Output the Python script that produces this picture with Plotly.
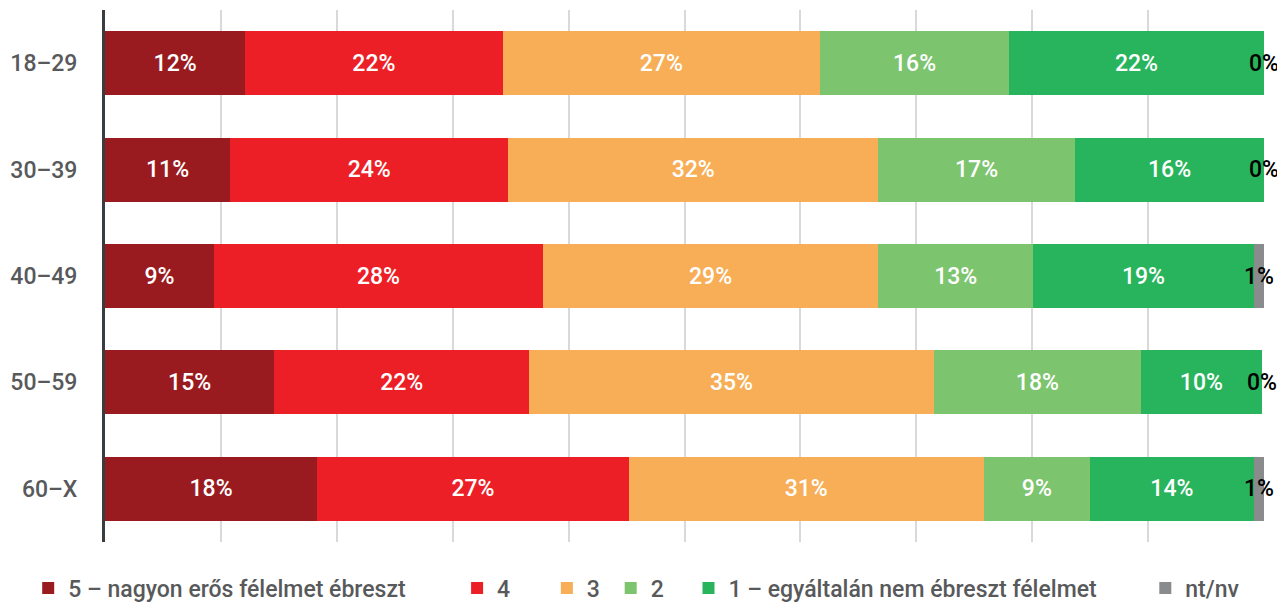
import plotly.graph_objects as go

categories = ["18–29", "30–39", "40–49", "50–59", "60–X"]
series_names = [
    "5 – nagyon erős félelmet ébreszt",
    "4",
    "3",
    "2",
    "1 – egyáltalán nem ébreszt félelmet",
    "nt/nv",
]
s5 = [12.1, 10.8, 9.4, 14.6, 18.3]
s4 = [22.2, 24.0, 28.4, 22.0, 26.9]
s3 = [27.4, 31.9, 28.9, 34.9, 30.6]
s2 = [16.3, 17.0, 13.4, 17.9, 9.2]
s1 = [22.0, 16.3, 19.0, 10.4, 14.1]
snv = [0.0, 0.0, 0.9, 0.0, 0.9]
values = [s5, s4, s3, s2, s1, snv]
colors = ["#9A1B1F", "#ED1F26", "#F7AE56", "#7DC46E", "#28B45C", "#8A8B8D"]

FONT = "Roboto"
SIZE = 23
GREY = "#58595B"

W, H = 1285, 620
OFF = 8  # page offset of the figure
ML, MR, MT, MB = 102 - OFF, W - (1264 - OFF), 10 - OFF, H - (542 - OFF)
PW, PH = W - ML - MR, H - MT - MB

# page x of each legend entry's text start (layout)
legend_text_x = [66, 496, 586, 650, 728, 1186]
LEG_Y_PAGE = 588

fig = go.Figure()
layout_legends = {}
for k, (name, vals, col) in enumerate(zip(series_names, values, colors)):
    is_nv = name == "nt/nv"
    lname = "legend" if k == 0 else f"legend{k + 1}"
    fig.add_trace(go.Bar(
        y=categories, x=vals, name=name, orientation="h",
        marker=dict(color=col, line=dict(width=0)),
        text=None if is_nv else [f"{round(v)}%" for v in vals],
        textposition="inside", insidetextanchor="middle",
        constraintext="none", textangle=0,
        textfont=dict(color="white", size=SIZE, family=FONT, weight=500),
        hoverinfo="skip", legend=lname,
    ))
    fx = legend_text_x[k] - 41 - OFF
    layout_legends[lname] = dict(
        orientation="h", x=(fx - ML) / PW, xanchor="left",
        yref="container", y=(H - (LEG_Y_PAGE - OFF)) / H, yanchor="middle",
        font=dict(size=SIZE, color=GREY, family=FONT, weight=500),
        bgcolor="rgba(0,0,0,0)",
    )

# labels for nt/nv segment (black, centered on the segment)
for i, cat in enumerate(categories):
    start = sum(v[i] for v in values[:-1])
    fig.add_annotation(
        x=start + snv[i] / 2, y=cat, text=f"{round(snv[i])}%",
        showarrow=False, xanchor="center", yanchor="middle",
        font=dict(color="black", size=SIZE, family=FONT, weight=500),
    )

fig.update_layout(
    barmode="stack", bargap=0.4,
    width=W, height=H,
    margin=dict(l=ML, r=MR, t=MT, b=MB),
    paper_bgcolor="white", plot_bgcolor="white",
    font=dict(family=FONT, color=GREY),
    showlegend=True,
    xaxis=dict(range=[0, 100], showticklabels=False, showgrid=True, dtick=10,
               gridcolor="#D9D9D9", gridwidth=2, zeroline=False, fixedrange=True),
    yaxis=dict(autorange="reversed", showline=True, linecolor="#3A3D40", linewidth=3,
               showgrid=False, ticks="", ticklabelstandoff=20,
               tickfont=dict(size=SIZE, color=GREY, family=FONT, weight=500)),
    **layout_legends,
)

fig.write_html("out.html")
